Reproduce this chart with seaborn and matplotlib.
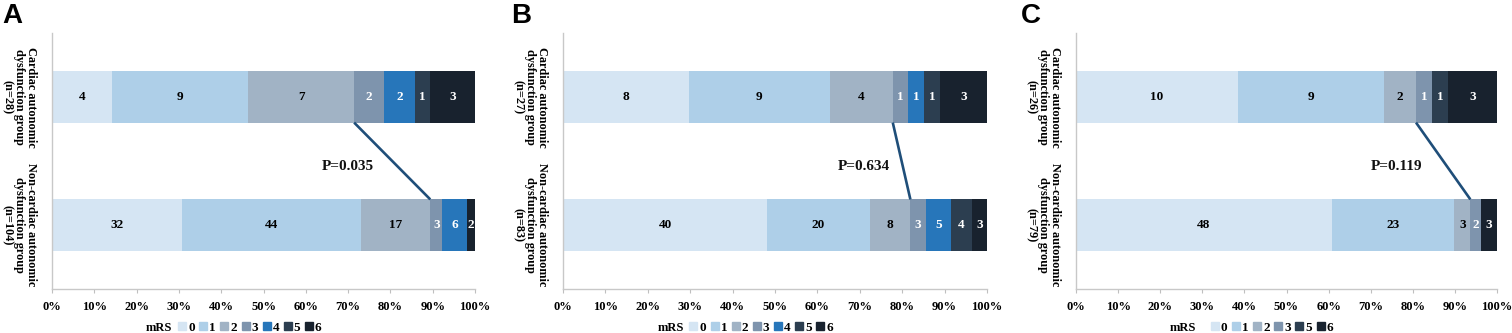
import numpy as np
import pandas as pd
import matplotlib
matplotlib.use("Agg")
import matplotlib.pyplot as plt
import seaborn as sns
from matplotlib.lines import Line2D

# ---------------- data ----------------
mrs_levels = ["0", "1", "2", "3", "4", "5", "6"]
mrs_colors = ["#d5e5f3", "#aecfe8", "#a1b3c5", "#7e94ad", "#2776ba", "#2c3e50", "#18222e"]
label_colors = ["black", "black", "black", "white", "white", "white", "white"]

panel_letters = ["A", "B", "C"]

groups_A = ["Cardiac autonomic\ndysfunction group\n(n=28)",
            "Non-cardiac autonomic\ndysfunction group\n(n=104)"]
cardiac_A = [4, 9, 7, 2, 2, 1, 3]
noncardiac_A = [32, 44, 17, 3, 6, 0, 2]

groups_B = ["Cardiac autonomic\ndysfunction group\n(n=27)",
            "Non-cardiac autonomic\ndysfunction group\n(n=83)"]
cardiac_B = [8, 9, 4, 1, 1, 1, 3]
noncardiac_B = [40, 20, 8, 3, 5, 4, 3]

groups_C = ["Cardiac autonomic\ndysfunction group\n(n=26)",
            "Non-cardiac autonomic\ndysfunction group\n(n=79)"]
cardiac_C = [10, 9, 2, 1, 0, 1, 3]
noncardiac_C = [48, 23, 3, 2, 0, 0, 3]

p_values = ["P=0.035", "P=0.634", "P=0.119"]
xtick_labels = ["0%", "10%", "20%", "30%", "40%", "50%", "60%", "70%", "80%", "90%", "100%"]

# layout-only settings
panel_rects = [(52, 475), (563, 987), (1076, 1497)]
p_text_x = [0.70, 0.71, 0.762]
letter_x = [2, 511, 1021]

sns.set_style("white")
plt.rcParams["font.family"] = ["Liberation Serif", "DejaVu Serif"]
plt.rcParams["font.weight"] = "bold"
plt.rcParams["text.color"] = "black"
plt.rcParams["xtick.labelcolor"] = "black"
plt.rcParams["ytick.labelcolor"] = "black"

W, H = 1512, 333
fig = plt.figure(figsize=(W / 100, H / 100), dpi=100)

panels = [(groups_A, cardiac_A, noncardiac_A),
          (groups_B, cardiac_B, noncardiac_B),
          (groups_C, cardiac_C, noncardiac_C)]

ax_top, ax_bot = 33, 289
bar_w = 0.4

for pi, (groups, card, noncard) in enumerate(panels):
    x0, x1 = panel_rects[pi]
    ax = fig.add_axes([x0 / W, (H - ax_bot) / H, (x1 - x0) / W, (ax_bot - ax_top) / H])

    counts = np.array([card, noncard], dtype=float)
    totals = counts.sum(axis=1, keepdims=True)
    frac = counts / totals
    cum_end = np.cumsum(frac, axis=1)
    cum_start = cum_end - frac

    rows = []
    for gi, g in enumerate(groups):
        for k, lev in enumerate(mrs_levels):
            rows.append(dict(group=g, mRS=lev, count=counts[gi, k],
                             end=cum_end[gi, k], start=cum_start[gi, k]))
    df = pd.DataFrame(rows)

    # stacked bars: draw cumulative ends from the last level to the first
    for k in reversed(range(len(mrs_levels))):
        sub = df[df["mRS"] == mrs_levels[k]]
        sns.barplot(data=sub, x="end", y="group", order=groups, orient="h",
                    color=mrs_colors[k], saturation=1, width=bar_w,
                    linewidth=0, errorbar=None, ax=ax)

    # segment labels
    for _, r in df.iterrows():
        if r["count"] > 0:
            k = mrs_levels.index(r["mRS"])
            gi = groups.index(r["group"])
            ax.text((r["start"] + r["end"]) / 2, gi, f"{int(r['count'])}",
                    ha="center", va="center", fontsize=9.5, fontweight="bold",
                    color=label_colors[k])

    # connector line between cumulative mRS 0-2 boundaries
    xa = cum_end[0, 2]
    xb = cum_end[1, 2]
    ax.plot([xa, xb], [0 + bar_w / 2, 1 - bar_w / 2], color="#1f4e79",
            linewidth=1.9, solid_capstyle="butt", zorder=5)
    ax.text(p_text_x[pi], 0.54, p_values[pi], ha="center", va="center",
            fontsize=11, fontweight="bold", color="#111111")

    ax.set_xlim(0, 1)
    ax.set_ylim(1.5, -0.5)
    ax.set_xticks(np.linspace(0, 1, 11))
    ax.set_xticklabels(xtick_labels, fontsize=9, fontweight="bold")
    ax.set_yticks([0, 1])
    ax.set_yticklabels(groups, rotation=270, ha="right", va="center",
                       fontsize=8.8, fontweight="bold", linespacing=0.95,
                       multialignment="center")
    ax.set_xlabel("")
    ax.set_ylabel("")
    ax.tick_params(axis="y", length=0, pad=11)
    ax.tick_params(axis="x", length=3, color="#bfbfbf", pad=6, direction="out", bottom=True)
    for s in ["top", "right"]:
        ax.spines[s].set_visible(False)
    for s in ["left", "bottom"]:
        ax.spines[s].set_color("#c8c8c8")
        ax.spines[s].set_linewidth(1.0)

    # legend (only levels present in the panel)
    present = [k for k in range(len(mrs_levels)) if counts[:, k].sum() > 0]
    handles = [Line2D([0], [0], marker="s", linestyle="none", markersize=6,
                      markerfacecolor=mrs_colors[k], markeredgecolor=mrs_colors[k])
               for k in present]
    leg_x = 0.30 if len(present) == 7 else 0.322
    ax.legend(handles, [mrs_levels[k] for k in present], ncol=len(present),
              loc="center left", bbox_to_anchor=(leg_x, -0.152),
              frameon=False, handlelength=0.5,
              handletextpad=0.2, columnspacing=0.4, borderpad=0,
              borderaxespad=0, prop={"weight": "bold", "size": 9.5})
    ax.text(0.285, -0.152, "mRS", transform=ax.transAxes, ha="right", va="center",
            fontsize=9, fontweight="bold")

    fig.text(letter_x[pi] / W, 1 - 3 / H, panel_letters[pi], ha="left", va="top",
             fontsize=20, fontweight="bold", color="black",
             family=["Liberation Sans", "DejaVu Sans"])

fig.savefig("out.png", dpi=100)
